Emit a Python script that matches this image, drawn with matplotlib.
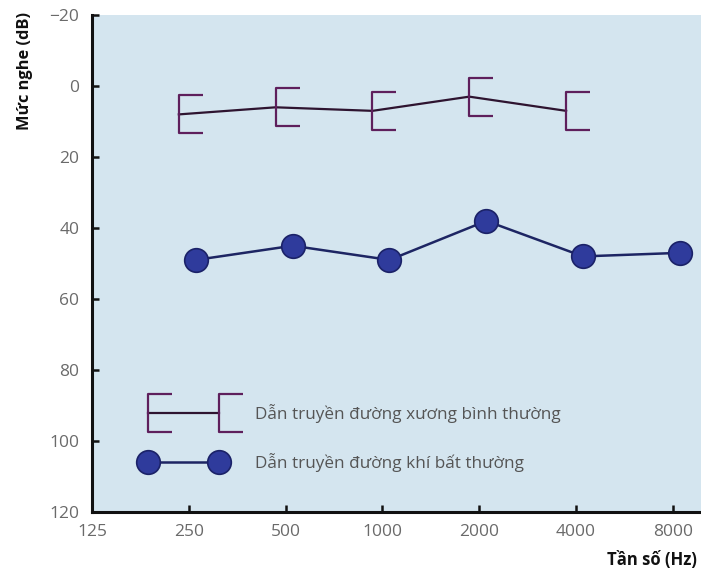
import matplotlib
matplotlib.use("Agg")
import matplotlib.pyplot as plt
from matplotlib.path import Path
from matplotlib.transforms import ScaledTranslation

plt.rcParams['font.family'] = ['Open Sans', 'DejaVu Sans']

# tần số đo (Hz)
freqs_bone = [250, 500, 1000, 2000, 4000]
bone_db = [8, 6, 7, 3, 7]
freqs_air = [250, 500, 1000, 2000, 4000, 8000]
air_db = [49, 45, 49, 38, 48, 47]

x_ticks = [125, 250, 500, 1000, 2000, 4000, 8000]
y_ticks = [-20, 0, 20, 40, 60, 80, 100, 120]

label_bone = "Dẫn truyền đường xương bình thường"
label_air = "Dẫn truyền đường khí bất thường"

bg = '#d4e5ef'
purple = '#5e1f5c'
bone_line = '#2e1430'
navy_line = '#1d2563'
dot_fill = '#2f3b9c'
dot_edge = '#1b2268'
tick_grey = '#6a6a6a'

# "[" marker, vertical bar at the data point
bracket = Path([(0.5, 0.40), (0, 0.40), (0, -0.40), (0.5, -0.40)],
               [Path.MOVETO, Path.LINETO, Path.LINETO, Path.LINETO])

fig = plt.figure(figsize=(7.01, 5.71), dpi=100)
ax = fig.add_axes([92 / 701, 1 - 512 / 571, 609 / 701, 497 / 571])
ax.set_facecolor(bg)

shift_bone = ax.transData + ScaledTranslation(-0.10, 0, fig.dpi_scale_trans)
shift_air = ax.transData + ScaledTranslation(0.07, 0, fig.dpi_scale_trans)

ax.plot(freqs_bone, bone_db, color=bone_line, lw=1.6, marker=bracket,
        markersize=34, markerfacecolor='none', markeredgecolor=purple,
        markeredgewidth=1.6, transform=shift_bone, label=label_bone, zorder=3)
ax.plot(freqs_air, air_db, color=navy_line, lw=1.8, marker='o',
        markersize=17, markerfacecolor=dot_fill, markeredgecolor=dot_edge,
        markeredgewidth=1.2, transform=shift_air, label=label_air, zorder=3)

ax.set_xscale('log')
ax.set_xlim(125, 9780)
ax.set_ylim(120, -20)
ax.set_xticks(x_ticks)
ax.set_xticklabels([str(v) for v in x_ticks])
ax.minorticks_off()
ax.set_yticks(y_ticks)
ax.set_yticklabels(['\u221220'] + [str(v) for v in y_ticks[1:]])

for side in ['top', 'right']:
    ax.spines[side].set_visible(False)
for side in ['left', 'bottom']:
    ax.spines[side].set_linewidth(2.2)
    ax.spines[side].set_color('#111111')

ax.tick_params(direction='in', length=5, width=1.8, color='#111111',
               labelsize=12.5, labelcolor=tick_grey)
ax.tick_params(axis='x', pad=9)
ax.tick_params(axis='y', pad=9)

fig.text(25 / 701, 1 - 12 / 571, "Mức nghe (dB)", rotation=90, ha='center',
         va='top', fontsize=11.8, fontweight='bold', color='#111111')
fig.text(697 / 701, 1 - 560 / 571, "Tần số (Hz)", ha='right', va='center',
         fontsize=12, fontweight='bold', color='#111111')

leg = ax.legend(loc='upper left', bbox_to_anchor=(0.084, 0.218), frameon=False,
                numpoints=2, handlelength=4.76, handletextpad=1.8,
                labelspacing=1.75, fontsize=12.3, borderpad=0, borderaxespad=0)
for t in leg.get_texts():
    t.set_color('#555555')

fig.savefig('out.png', dpi=100)
